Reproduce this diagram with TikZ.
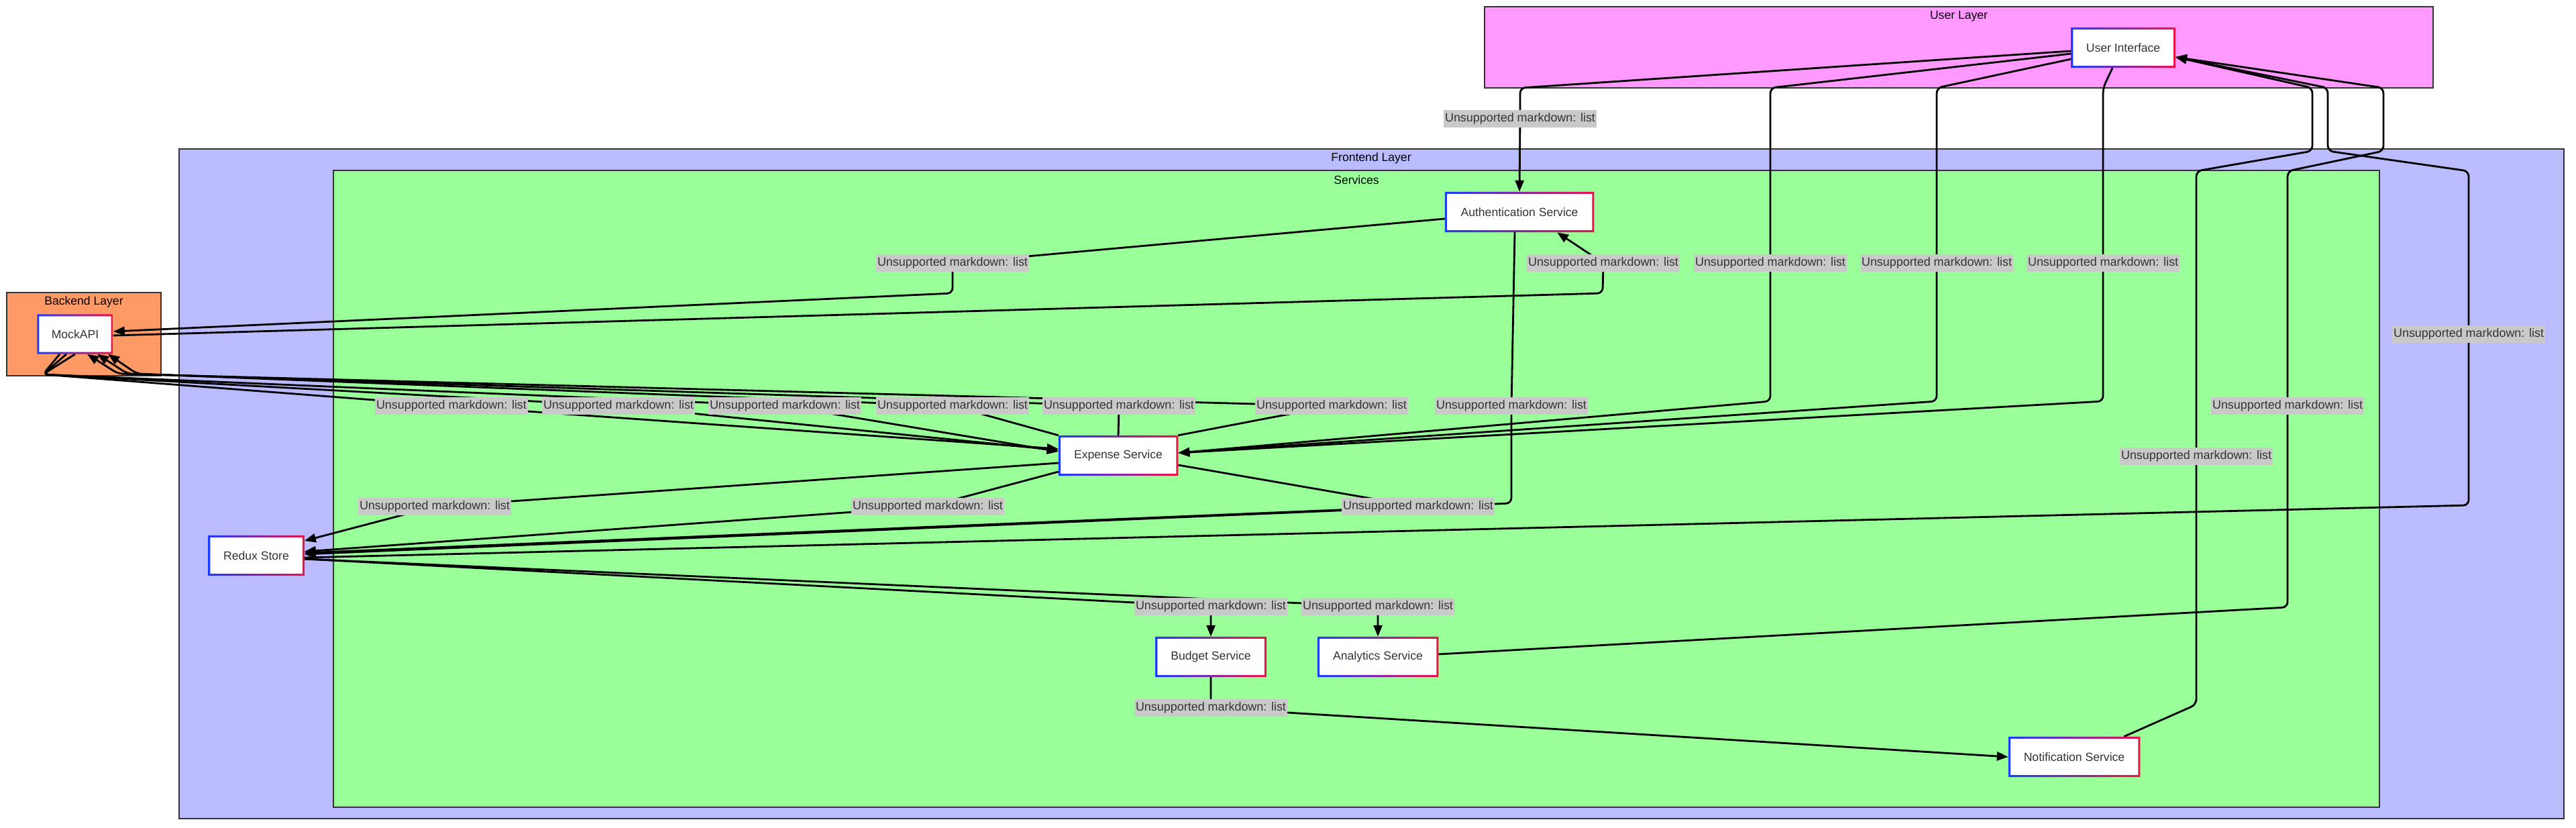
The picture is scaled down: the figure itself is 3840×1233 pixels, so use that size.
\documentclass[tikz,border=0pt]{standalone}
\usepackage{fontspec}
\setmainfont{Liberation Sans}
\usetikzlibrary{arrows.meta}

\definecolor{userfill}{HTML}{FF99FF}
\definecolor{frontfill}{HTML}{BBBBFF}
\definecolor{servfill}{HTML}{99FF99}
\definecolor{backfill}{HTML}{FF9966}
\definecolor{darkline}{HTML}{333333}
\definecolor{lblgray}{HTML}{C9C9C9}
\definecolor{gblue}{HTML}{1A3CFF}
\definecolor{gred}{HTML}{F0104A}

\pgfdeclarelayer{clusters}
\pgfdeclarelayer{edges}
\pgfsetlayers{clusters,edges,main}

\tikzset{
  cluster/.style={draw=darkline, line width=0.8pt},
  title/.style={text=black, inner sep=0pt, font=\fontsize{5}{6}\selectfont},
  box/.style={rectangle, fill=white, text=darkline, minimum height=0.59cm, inner sep=0pt, font=\fontsize{5}{6}\selectfont},
  lbl/.style={fill=lblgray, text=darkline, inner xsep=0.6pt, inner ysep=0pt, minimum height=0.26cm, font=\fontsize{5.1}{6}\selectfont},
  flow/.style={draw=black, line width=0.8pt, rounded corners=0.08cm, -{Triangle[length=0.17cm,width=0.13cm]}},
}

\begin{document}
\begin{tikzpicture}[x=0.01cm, y=-0.01cm]
        \useasboundingbox (0,0) rectangle (3840,1233);

        % layers
        \begin{pgfonlayer}{clusters}
          \draw[cluster, fill=userfill] (2213,10) rectangle (3627,131);
          \draw[cluster, fill=frontfill] (267,222) rectangle (3822,1220);
          \draw[cluster, fill=servfill] (497,254) rectangle (3547,1203);
          \draw[cluster, fill=backfill] (10,436) rectangle (240,560);
        \end{pgfonlayer}
        \node[title] (usertitle) at (2920,24) {User Layer};
        \node[title] (fronttitle) at (2044,236) {Frontend Layer};
        \node[title] (servtitle) at (2022,268) {Services};
        \node[title] (backtitle) at (125,450) {Backend Layer};

        % components
        \node[box, minimum width=1.54cm] (ui) at (3165,71) {User Interface};
        \node[box, minimum width=2.21cm] (auth) at (2265,316) {Authentication Service};
        \node[box, minimum width=1.12cm, minimum height=0.58cm] (mock) at (112,498) {MockAPI};
        \node[box, minimum width=1.77cm] (expense) at (1667,679) {Expense Service};
        \node[box, minimum width=1.42cm] (redux) at (382,828) {Redux Store};
        \node[box, minimum width=1.64cm] (budget) at (1805,979) {Budget Service};
        \node[box, minimum width=1.79cm] (analytics) at (2054,979) {Analytics Service};
        \node[box, minimum width=1.95cm] (notif) at (3092,1128) {Notification Service};

        \foreach \n in {ui,auth,mock,expense,redux,budget,analytics,notif}
          \shade[left color=gblue, right color=gred, even odd rule]
            (\n.south west) rectangle (\n.north east)
            ([shift={(3,3)}]\n.north west) rectangle ([shift={(-3,-3)}]\n.south east);

        % edge labels
        \foreach \n/\x/\y in {l1/2266/177, l2/1420/392, l3/2390/392, l4/2639/392,
            l5/2887/392, l6/3135/392, l7/673/605, l8/922/605, l9/1170/605,
            l10/1420/605, l11/1668/605, l12/1985/605, l13/648/755, l14/1383/755,
            l15/2114/755, l16/2253/605, l17/3680/498, l18/3410/605, l19/3274/680,
            l20/1805/904, l21/2054/904, l22/1805/1055}
          \node[lbl] (\n) at (\x,\y) {Unsupported markdown: list};

        \begin{pgfonlayer}{edges}
          % user interface
          \draw[flow] ([yshift=-0.05cm]ui.west) -- (2266,131) -- (l1.center) -- (auth.north);
          \draw[flow] ([yshift=-0.09cm]ui.west) -- (2639,131) -- (l4.center) -- (2639,598) -- ([yshift=0.04cm]expense.east);
          \draw[flow] ([yshift=-0.17cm]ui.west) -- (2887,131) -- (l5.center) -- (2887,598) -- ([yshift=0.04cm]expense.east);
          \draw[flow] ([xshift=-0.16cm]ui.south) -- (3135,131) -- (l6.center) -- (3135,598) -- ([yshift=0.04cm]expense.east);

          % authentication
          \draw[flow] ([yshift=-0.1cm]auth.west) -- (l2.center) -- (1420,437) -- ([yshift=0.04cm]mock.east);
          \draw[flow] ([yshift=-0.02cm]mock.east) -- (2389,437) -- (l3.center) -- ([xshift=0.56cm]auth.south);
          \draw[flow] ([xshift=-0.07cm]auth.south) -- (l16.center) -- (2253,750) -- ([yshift=0.02cm]redux.east);

          % mock api and expenses
          \foreach \l/\s/\t in {l7/-0.23/0.1, l8/-0.13/0.08, l9/0/0.06}
            \draw[flow] ([xshift=\s cm]mock.south) -- (64,558) -- (\l.center) -- ([yshift=\t cm]expense.west);
          \draw[flow] (expense.north west) -- (l10.center) -- (204,557) -- ([xshift=0.49cm]mock.south);
          \draw[flow] (expense.north) -- (l11.center) -- (190,557) -- ([xshift=0.33cm]mock.south);
          \draw[flow] (expense.north east) -- (l12.center) -- (176,557) -- ([xshift=0.18cm]mock.south);

          % store
          \draw[flow] ([yshift=-0.11cm]expense.west) -- (l13.center) -- ([yshift=0.22cm]redux.east);
          \draw[flow] ([yshift=-0.24cm]expense.west) -- (l14.center) -- ([yshift=0.06cm]redux.east);
          \draw[flow] ([yshift=-0.14cm]expense.east) -- (l15.center) -- ([yshift=0.04cm]redux.east);
          \draw[flow] ([yshift=-0.03cm]redux.east) -- (3680,753) -- (l17.center) -- (3680,255) -- (3470,225) -- (3470,131) -- ([yshift=-0.14cm]ui.east);
          \draw[flow] ([yshift=-0.05cm]redux.east) -- (l20.center) -- (budget.north);
          \draw[flow] ([yshift=-0.05cm]redux.east) -- (l21.center) -- (analytics.north);

          % budget, analytics, notifications
          \draw[flow] (budget.south) -- (l22.center) -- (notif.west);
          \draw[flow] ([yshift=0.04cm]analytics.east) -- (3410,905) -- (l18.center) -- (3410,255) -- (3553,225) -- (3553,131) -- ([yshift=-0.14cm]ui.east);
          \draw[flow] ([xshift=0.74cm]notif.north) -- (3274,1050) -- (l19.center) -- (3274,255) -- (3447,225) -- (3447,131) -- ([yshift=-0.14cm]ui.east);
        \end{pgfonlayer}
      \end{tikzpicture}
\end{document}
